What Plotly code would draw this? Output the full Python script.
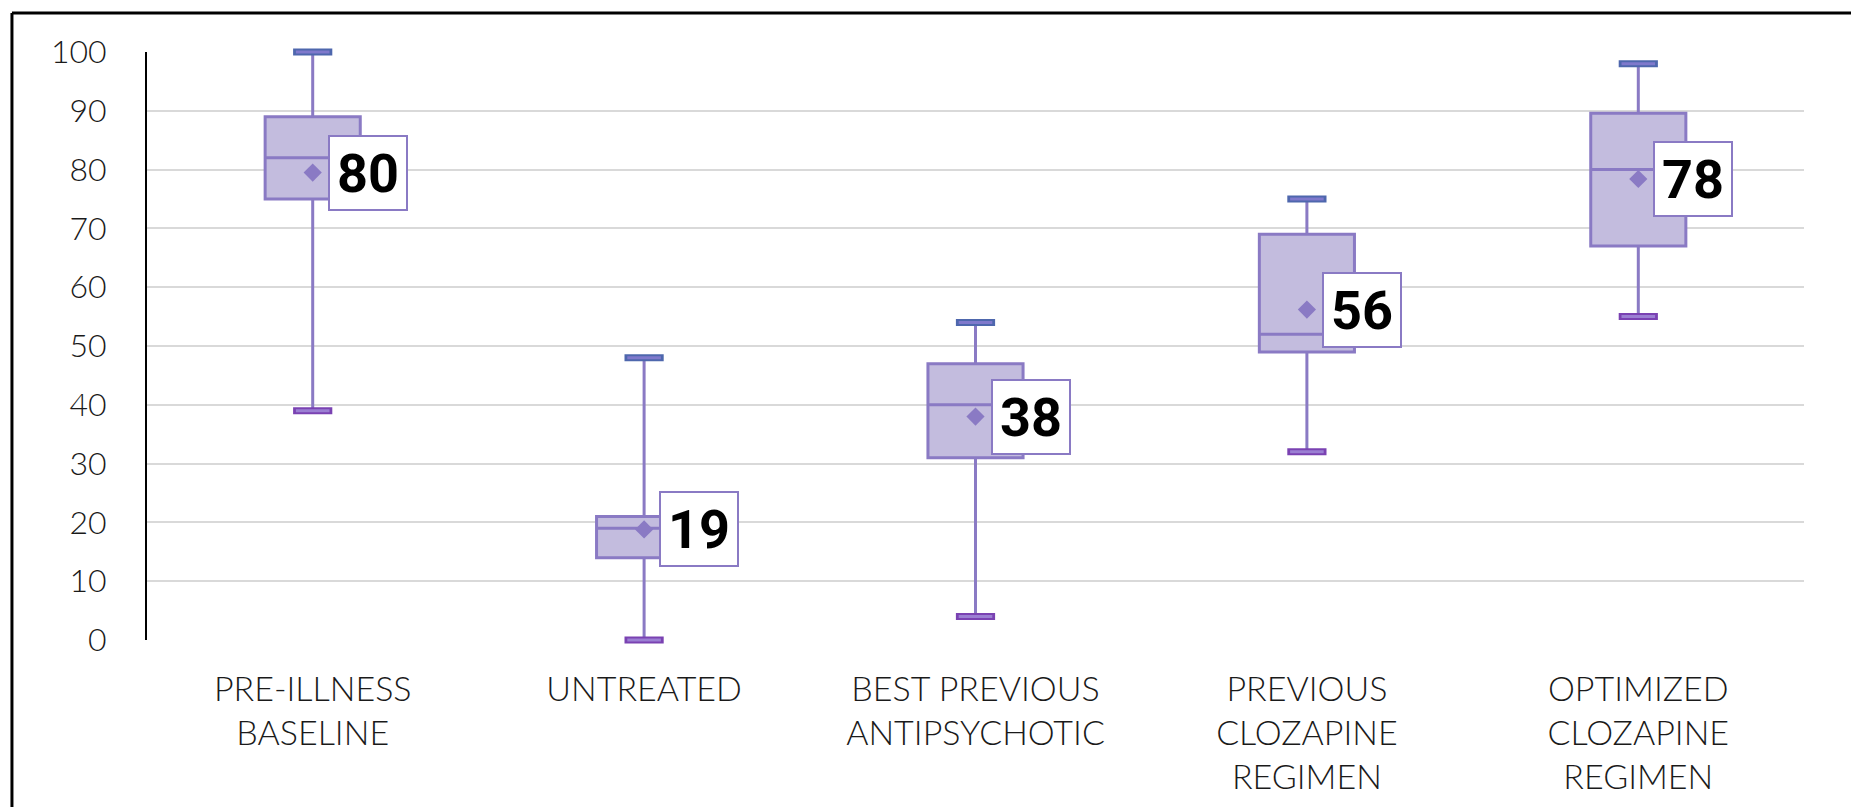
import plotly.graph_objects as go

categories = ["PRE-ILLNESS<br>BASELINE", "UNTREATED", "BEST PREVIOUS<br>ANTIPSYCHOTIC",
              "PREVIOUS<br>CLOZAPINE<br>REGIMEN", "OPTIMIZED<br>CLOZAPINE<br>REGIMEN"]
minimum = [39, 0, 4, 32, 55]
q1 = [75, 14, 31, 49, 67]
median = [82, 19, 40, 52, 80]
q3 = [89, 21, 47, 69, 89.6]
maximum = [100, 48, 54, 75, 98]
mean = [79.5, 18.8, 38, 56.2, 78.4]
mean_labels = ["80", "19", "38", "56", "78"]
y_ticks = list(range(0, 101, 10))

BOX_LINE = "#8a7ac4"
BOX_FILL = "#c3bcde"
TEXT_FONT = "Lato"

fig = go.Figure()

fig.add_trace(go.Box(
    x=categories, q1=q1, median=median, q3=q3,
    lowerfence=minimum, upperfence=maximum,
    fillcolor=BOX_FILL, line=dict(color=BOX_LINE, width=3),
    whiskerwidth=0, boxpoints=False, showlegend=False, hoverinfo="skip",
))

# whisker caps (upper: blue outline, lower: purple outline)
for vals, outer, inner in [(maximum, "#4e67ad", "#7f79cc"), (minimum, "#7a42b2", "#9b7fd3")]:
    fig.add_trace(go.Scatter(
        x=categories, y=vals, mode="markers", cliponaxis=False, showlegend=False,
        hoverinfo="skip",
        marker=dict(symbol="line-ew", size=28, line=dict(color=outer, width=7)),
    ))
    fig.add_trace(go.Scatter(
        x=categories, y=vals, mode="markers", cliponaxis=False, showlegend=False,
        hoverinfo="skip",
        marker=dict(symbol="line-ew", size=24, line=dict(color=inner, width=3)),
    ))

# mean diamonds
fig.add_trace(go.Scatter(
    x=categories, y=mean, mode="markers", showlegend=False, hoverinfo="skip",
    marker=dict(symbol="diamond", size=14, color=BOX_LINE, line=dict(width=0)),
))

for c, m, lab in zip(categories, mean, mean_labels):
    fig.add_annotation(
        x=c, y=m, text="<b>" + lab + "</b>", showarrow=False,
        xshift=55, xanchor="center", yanchor="middle",
        font=dict(family="Roboto", size=54, color="#000000"),
        bgcolor="#ffffff", bordercolor=BOX_LINE, borderwidth=2, borderpad=4,
        width=68, height=64,
    )

# outer frame (top and left edges visible)
fig.add_shape(type="line", xref="paper", yref="paper",
              x0=-0.0815, x1=1.06, y0=1.0663, y1=1.0663,
              line=dict(color="#000000", width=3))
fig.add_shape(type="line", xref="paper", yref="paper",
              x0=-0.0815, x1=-0.0815, y0=1.0663, y1=-0.32,
              line=dict(color="#000000", width=3))

fig.update_layout(
    width=1859, height=807,
    margin=dict(l=139, r=63, t=44, b=175),
    paper_bgcolor="#ffffff", plot_bgcolor="#ffffff",
    boxgap=0.59,
    font=dict(family=TEXT_FONT, color="#1a1a1a"),
)
fig.update_yaxes(
    range=[0, 100], tickvals=y_ticks, showgrid=True, gridcolor="#d9d9d9", gridwidth=2,
    zeroline=False, showline=True, linecolor="#000000", linewidth=2,
    ticks="", ticklabelstandoff=32,
    tickfont=dict(family=TEXT_FONT, size=32, color="#1a1a1a", weight=300),
)
fig.update_xaxes(
    showgrid=False, zeroline=False, showline=False, ticks="",
    ticklabelstandoff=26,
    tickfont=dict(family=TEXT_FONT, size=34, color="#1a1a1a", weight=300),
)

fig.write_html("out.html")
